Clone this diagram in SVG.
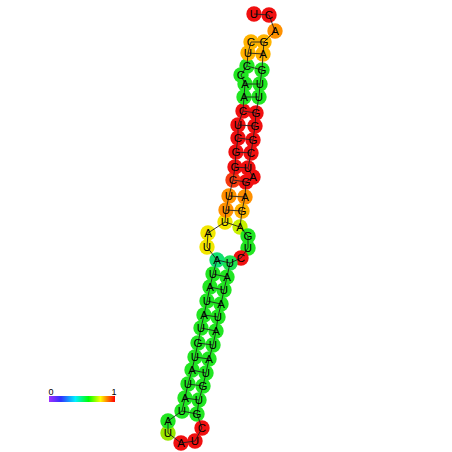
<svg xmlns="http://www.w3.org/2000/svg" width="452" height="452" viewBox="0 0 452 452">
<defs>
<linearGradient id="cbar" x1="0" y1="0" x2="1" y2="0">
<stop offset="0" stop-color="#a030ff"/>
<stop offset="0.18" stop-color="#3030ff"/>
<stop offset="0.4" stop-color="#00f0ff"/>
<stop offset="0.6" stop-color="#00ff00"/>
<stop offset="0.78" stop-color="#ffff00"/>
<stop offset="0.88" stop-color="#ff8000"/>
<stop offset="1" stop-color="#ff0000"/>
</linearGradient>
</defs>
<style>
circle{stroke:none}
.r{fill:#f01010}
.ro{fill:#f53a10}
.o{fill:#ff9000}
.oy{fill:#ffb400}
.y{fill:#f2e600}
.yg{fill:#c8f000}
.lg{fill:#99e600}
.g{fill:#22e622}
.gc{fill:#10e070}
.gq{fill:#1ee050}
text{font-family:"Liberation Sans",Arial,sans-serif;font-size:11.5px;fill:#000;text-anchor:middle}
.lk line{stroke:#222;stroke-width:0.9}
.lbl{font-size:9px}
</style>
<rect width="452" height="452" fill="#fff"/>
<g id="circles">
<g id="n1"><circle class="r" cx="254" cy="14" r="7.7"/></g>
<g id="n2"><circle class="r" cx="269" cy="15" r="7.7"/></g>
<g id="n3"><circle class="o" cx="275" cy="31" r="7.7"/></g>
<g id="n4"><circle class="oy" cx="264" cy="42" r="7.7"/></g>
<g id="n5"><circle class="oy" cx="263" cy="54" r="7.7"/></g>
<g id="n6"><circle class="g" cx="262" cy="70" r="7.7"/></g>
<g id="n7"><circle class="g" cx="260" cy="84" r="7.7"/></g>
<g id="n8"><circle class="g" cx="259" cy="97" r="7.7"/></g>
<g id="n9"><circle class="r" cx="256" cy="113" r="7.7"/></g>
<g id="n10"><circle class="r" cx="255" cy="126" r="7.7"/></g>
<g id="n11"><circle class="r" cx="253" cy="140" r="7.7"/></g>
<g id="n12"><circle class="r" cx="251" cy="153" r="7.7"/></g>
<g id="n13"><circle class="r" cx="248" cy="168" r="7.7"/></g>
<g id="n14"><circle class="r" cx="253" cy="177" r="7.7"/></g>
<g id="n15"><circle class="r" cx="246" cy="182" r="7.7"/></g>
<g id="n16"><circle class="o" cx="245" cy="197" r="7.7"/></g>
<g id="n17"><circle class="oy" cx="242" cy="211" r="7.7"/></g>
<g id="n18"><circle class="yg" cx="240" cy="227" r="7.7"/></g>
<g id="n19"><circle class="g" cx="248" cy="236" r="7.7"/></g>
<g id="n20"><circle class="g" cx="248" cy="248" r="7.7"/></g>
<g id="n21"><circle class="r" cx="241" cy="258" r="7.7"/></g>
<g id="n22"><circle class="gq" cx="230" cy="263" r="7.7"/></g>
<g id="n23"><circle class="g" cx="227" cy="277" r="7.7"/></g>
<g id="n24"><circle class="g" cx="224" cy="290" r="7.7"/></g>
<g id="n25"><circle class="g" cx="221" cy="304" r="7.7"/></g>
<g id="n26"><circle class="g" cx="218" cy="317" r="7.7"/></g>
<g id="n27"><circle class="g" cx="216" cy="331" r="7.7"/></g>
<g id="n28"><circle class="g" cx="213" cy="345" r="7.7"/></g>
<g id="n29"><circle class="g" cx="209" cy="359" r="7.7"/></g>
<g id="n30"><circle class="g" cx="206" cy="373" r="7.7"/></g>
<g id="n31"><circle class="g" cx="203" cy="386" r="7.7"/></g>
<g id="n32"><circle class="g" cx="199" cy="400" r="7.7"/></g>
<g id="n33"><circle class="g" cx="197" cy="414" r="7.7"/></g>
<g id="n34"><circle class="r" cx="202" cy="428" r="7.7"/></g>
<g id="n35"><circle class="r" cx="195" cy="441" r="7.7"/></g>
<g id="n36"><circle class="r" cx="181" cy="443" r="7.7"/></g>
<g id="n37"><circle class="lg" cx="168" cy="433" r="7.7"/></g>
<g id="n38"><circle class="g" cx="168" cy="421" r="7.7"/></g>
<g id="n39"><circle class="g" cx="182" cy="411" r="7.7"/></g>
<g id="n40"><circle class="g" cx="185" cy="398" r="7.7"/></g>
<g id="n41"><circle class="g" cx="188" cy="384" r="7.7"/></g>
<g id="n42"><circle class="g" cx="192" cy="370" r="7.7"/></g>
<g id="n43"><circle class="g" cx="195" cy="357" r="7.7"/></g>
<g id="n44"><circle class="g" cx="198" cy="343" r="7.7"/></g>
<g id="n45"><circle class="g" cx="201" cy="328" r="7.7"/></g>
<g id="n46"><circle class="g" cx="204" cy="315" r="7.7"/></g>
<g id="n47"><circle class="g" cx="207" cy="301" r="7.7"/></g>
<g id="n48"><circle class="g" cx="210" cy="287" r="7.7"/></g>
<g id="n49"><circle class="g" cx="213" cy="274" r="7.7"/></g>
<g id="n50"><circle class="gc" cx="217" cy="260" r="7.7"/></g>
<g id="n51"><circle class="y" cx="207" cy="247" r="7.7"/></g>
<g id="n52"><circle class="y" cx="208" cy="233" r="7.7"/></g>
<g id="n53"><circle class="y" cx="225" cy="222" r="7.7"/></g>
<g id="n54"><circle class="o" cx="226" cy="210" r="7.7"/></g>
<g id="n55"><circle class="o" cx="229" cy="196" r="7.7"/></g>
<g id="n56"><circle class="ro" cx="233" cy="180" r="7.7"/></g>
<g id="n57"><circle class="r" cx="235" cy="167" r="7.7"/></g>
<g id="n58"><circle class="r" cx="236" cy="152" r="7.7"/></g>
<g id="n59"><circle class="r" cx="238" cy="138" r="7.7"/></g>
<g id="n60"><circle class="r" cx="238" cy="125" r="7.7"/></g>
<g id="n61"><circle class="r" cx="243" cy="111" r="7.7"/></g>
<g id="n62"><circle class="g" cx="244" cy="97" r="7.7"/></g>
<g id="n63"><circle class="g" cx="245" cy="84" r="7.7"/></g>
<g id="n64"><circle class="g" cx="241" cy="75" r="7.7"/></g>
<g id="n65"><circle class="g" cx="247" cy="66" r="7.7"/></g>
<g id="n66"><circle class="oy" cx="248" cy="53" r="7.7"/></g>
<g id="n67"><circle class="oy" cx="251" cy="42" r="7.7"/></g>
</g>
<g id="connectors" class="lk">
<polyline fill="none" stroke="#222" stroke-width="0.9" points="254,14 269,15 275,31 264,42 263,54 262,70 260,84 259,97 256,113 255,126 253,140 251,153 248,168 253,177 246,182 245,197 242,211 240,227 248,236 248,248 241,258 230,263 227,277 224,290 221,304 218,317 216,331 213,345 209,359 206,373 203,386 199,400 197,414 202,428 195,441 181,443 168,433 168,421 182,411 185,398 188,384 192,370 195,357 198,343 201,328 204,315 207,301 210,287 213,274 217,260 207,247 208,233 225,222 226,210 229,196 233,180 235,167 236,152 238,138 238,125 243,111 244,97 245,84 241,75 247,66 248,53 251,42"/>
<line x1="264" y1="42" x2="251" y2="42"/>
<line x1="263" y1="54" x2="248" y2="53"/>
<line x1="262" y1="70" x2="247" y2="66"/>
<line x1="260" y1="84" x2="245" y2="84"/>
<line x1="259" y1="97" x2="244" y2="97"/>
<line x1="256" y1="113" x2="243" y2="111"/>
<line x1="255" y1="126" x2="238" y2="125"/>
<line x1="253" y1="140" x2="238" y2="138"/>
<line x1="251" y1="153" x2="236" y2="152"/>
<line x1="248" y1="168" x2="235" y2="167"/>
<line x1="246" y1="182" x2="233" y2="180"/>
<line x1="245" y1="197" x2="229" y2="196"/>
<line x1="242" y1="211" x2="226" y2="210"/>
<line x1="240" y1="227" x2="225" y2="222"/>
<line x1="230" y1="263" x2="217" y2="260"/>
<line x1="227" y1="277" x2="213" y2="274"/>
<line x1="224" y1="290" x2="210" y2="287"/>
<line x1="221" y1="304" x2="207" y2="301"/>
<line x1="218" y1="317" x2="204" y2="315"/>
<line x1="216" y1="331" x2="201" y2="328"/>
<line x1="213" y1="345" x2="198" y2="343"/>
<line x1="209" y1="359" x2="195" y2="357"/>
<line x1="206" y1="373" x2="192" y2="370"/>
<line x1="203" y1="386" x2="188" y2="384"/>
<line x1="199" y1="400" x2="185" y2="398"/>
<line x1="197" y1="414" x2="182" y2="411"/>
</g>
<g id="letters">
<text x="254" y="18">U</text><text x="269" y="19">C</text><text x="275" y="35">A</text><text x="264" y="46">G</text><text x="263" y="58">A</text>
<text x="262" y="74">G</text><text x="260" y="88">U</text><text x="259" y="101">U</text><text x="256" y="117">G</text><text x="255" y="130">G</text>
<text x="253" y="144">G</text><text x="251" y="157">C</text><text x="248" y="172">U</text><text x="253" y="181">A</text><text x="246" y="186">G</text>
<text x="245" y="201">A</text><text x="242" y="215">G</text><text x="240" y="231">A</text><text x="248" y="240">G</text><text x="248" y="252">U</text>
<text x="241" y="262">C</text><text x="230" y="267">U</text><text x="227" y="281">A</text><text x="224" y="294">U</text><text x="221" y="308">A</text>
<text x="218" y="321">U</text><text x="216" y="335">A</text><text x="213" y="349">U</text><text x="209" y="363">A</text><text x="206" y="377">U</text>
<text x="203" y="390">G</text><text x="199" y="404">U</text><text x="197" y="418">G</text><text x="202" y="432">C</text><text x="195" y="445">U</text>
<text x="181" y="447">A</text><text x="168" y="437">U</text><text x="168" y="425">A</text><text x="182" y="415">U</text><text x="185" y="402">A</text>
<text x="188" y="388">U</text><text x="192" y="374">A</text><text x="195" y="361">U</text><text x="198" y="347">G</text><text x="201" y="332">U</text>
<text x="204" y="319">A</text><text x="207" y="305">U</text><text x="210" y="291">A</text><text x="213" y="278">U</text><text x="217" y="264">A</text>
<text x="207" y="251">U</text><text x="208" y="237">A</text><text x="225" y="226">U</text><text x="226" y="214">U</text><text x="229" y="200">U</text>
<text x="233" y="184">C</text><text x="235" y="171">G</text><text x="236" y="156">G</text><text x="238" y="142">C</text><text x="238" y="129">U</text>
<text x="243" y="115">C</text><text x="244" y="101">A</text><text x="245" y="88">A</text><text x="241" y="79">C</text><text x="247" y="70">C</text>
<text x="248" y="57">U</text><text x="251" y="46">C</text>
</g>
<g id="colorbar">
<rect x="49" y="396" width="66" height="6" fill="url(#cbar)"/>
<text class="lbl" x="51" y="395">0</text>
<text class="lbl" x="114" y="395">1</text>
</g>
</svg>
